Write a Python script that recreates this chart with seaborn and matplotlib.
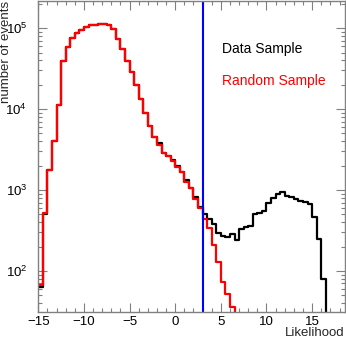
import numpy as np
import pandas as pd
import seaborn as sns
import matplotlib
matplotlib.use("Agg")
import matplotlib.pyplot as plt
from matplotlib.ticker import MultipleLocator, LogLocator, LogFormatterMathtext, NullFormatter

# Histogram binning: 0.5 wide bins from -15 to 18.5
bin_lo, bin_hi, bin_w = -15.0, 18.5, 0.5

random_counts = [66, 515, 1760, 4060, 11240, 39400, 59200, 75100, 86700, 96000,
                 103500, 108000, 111000, 112000, 112000, 109000, 97200, 73100, 55000, 39400,
                 29000, 19900, 13300, 8870, 6240, 4550, 3600, 2850, 2600, 2280,
                 1930, 1680, 1260, 1046, 771, 592, 443, 335, 208, 129,
                 73, 52, 36, 0, 0, 0, 0, 0, 0, 0,
                 0, 0, 0, 0, 0, 0, 0, 0, 0, 0,
                 0, 0, 0, 0, 0, 0, 0]

data_counts = [63, 505, 1760, 4060, 11240, 39400, 59200, 75100, 86700, 96000,
               103500, 108000, 111000, 112000, 112000, 109000, 97200, 73100, 55000, 39400,
               29000, 19900, 13300, 8870, 6240, 4550, 3840, 2900, 2600, 2380,
               1990, 1680, 1310, 1046, 810, 609, 502, 443, 380, 298,
               266, 260, 282, 240, 325, 351, 357, 502, 512, 553,
               683, 787, 890, 934, 841, 810, 765, 730, 715, 669,
               466, 246, 80, 0, 0, 0, 0]

cut_value = 3.0

edges = list(np.arange(bin_lo, bin_hi + bin_w / 2, bin_w))
centers = np.arange(bin_lo, bin_hi, bin_w) + bin_w / 2

df_data = pd.DataFrame({"likelihood": centers, "count": data_counts})
df_random = pd.DataFrame({"likelihood": centers, "count": random_counts})

sns.set_style("ticks")
plt.rcParams["font.family"] = ["Liberation Sans", "DejaVu Sans"]
plt.rcParams["mathtext.fontset"] = "custom"
plt.rcParams["mathtext.rm"] = "Liberation Sans"

fig = plt.figure(figsize=(3.46, 3.38), dpi=100)
ax = fig.add_axes([38.3 / 346, 26 / 338, (345 - 38.3) / 346, 311.5 / 338])
ax.set_yscale("log")

# data first, random sample drawn on top (as in the original)
sns.histplot(data=df_data, x="likelihood", weights="count", bins=edges, element="step",
             fill=False, color="black", linewidth=1.6, ax=ax)
sns.histplot(data=df_random, x="likelihood", weights="count", bins=edges, element="step",
             fill=False, color="red", linewidth=1.6, ax=ax)
ax.axvline(cut_value, color="blue", linewidth=1.5)

ax.set_xlim(-15, 18.6)
ax.set_ylim(31, 2.2e5)
ax.set_xlabel("")
ax.set_ylabel("")

frame_col = "#808080"
for sp in ax.spines.values():
    sp.set_visible(True)
    sp.set_color(frame_col)
    sp.set_linewidth(1.0)

ax.xaxis.set_major_locator(MultipleLocator(5))
ax.xaxis.set_minor_locator(MultipleLocator(1))
ax.yaxis.set_major_locator(LogLocator(base=10))
ax.yaxis.set_minor_locator(LogLocator(base=10, subs=np.arange(2, 10)))
ax.yaxis.set_major_formatter(LogFormatterMathtext())
ax.yaxis.set_minor_formatter(NullFormatter())
ax.tick_params(which="both", direction="in", top=True, right=True, color=frame_col,
               labelsize=9.5, labelcolor="black")
ax.tick_params(which="major", length=6.5, width=0.8)
ax.tick_params(which="minor", length=3.2, width=0.8)
ax.tick_params(axis="x", which="major", pad=3)
ax.tick_params(axis="y", which="major", pad=8)

fig.text(6 / 346, 1 - 1 / 338, "number of events", rotation=90, ha="center", va="top",
         fontsize=9.5)
fig.text(344 / 346, (338 - 336.5) / 338, "Likelihood", ha="right", va="baseline",
         fontsize=9.5)
fig.text(222 / 346, (338 - 52.7) / 338, "Data Sample", ha="left", va="baseline",
         fontsize=10, color="black")
fig.text(222 / 346, (338 - 85.5) / 338, "Random Sample", ha="left", va="baseline",
         fontsize=10, color="red")

fig.savefig("out.png", dpi=100)
